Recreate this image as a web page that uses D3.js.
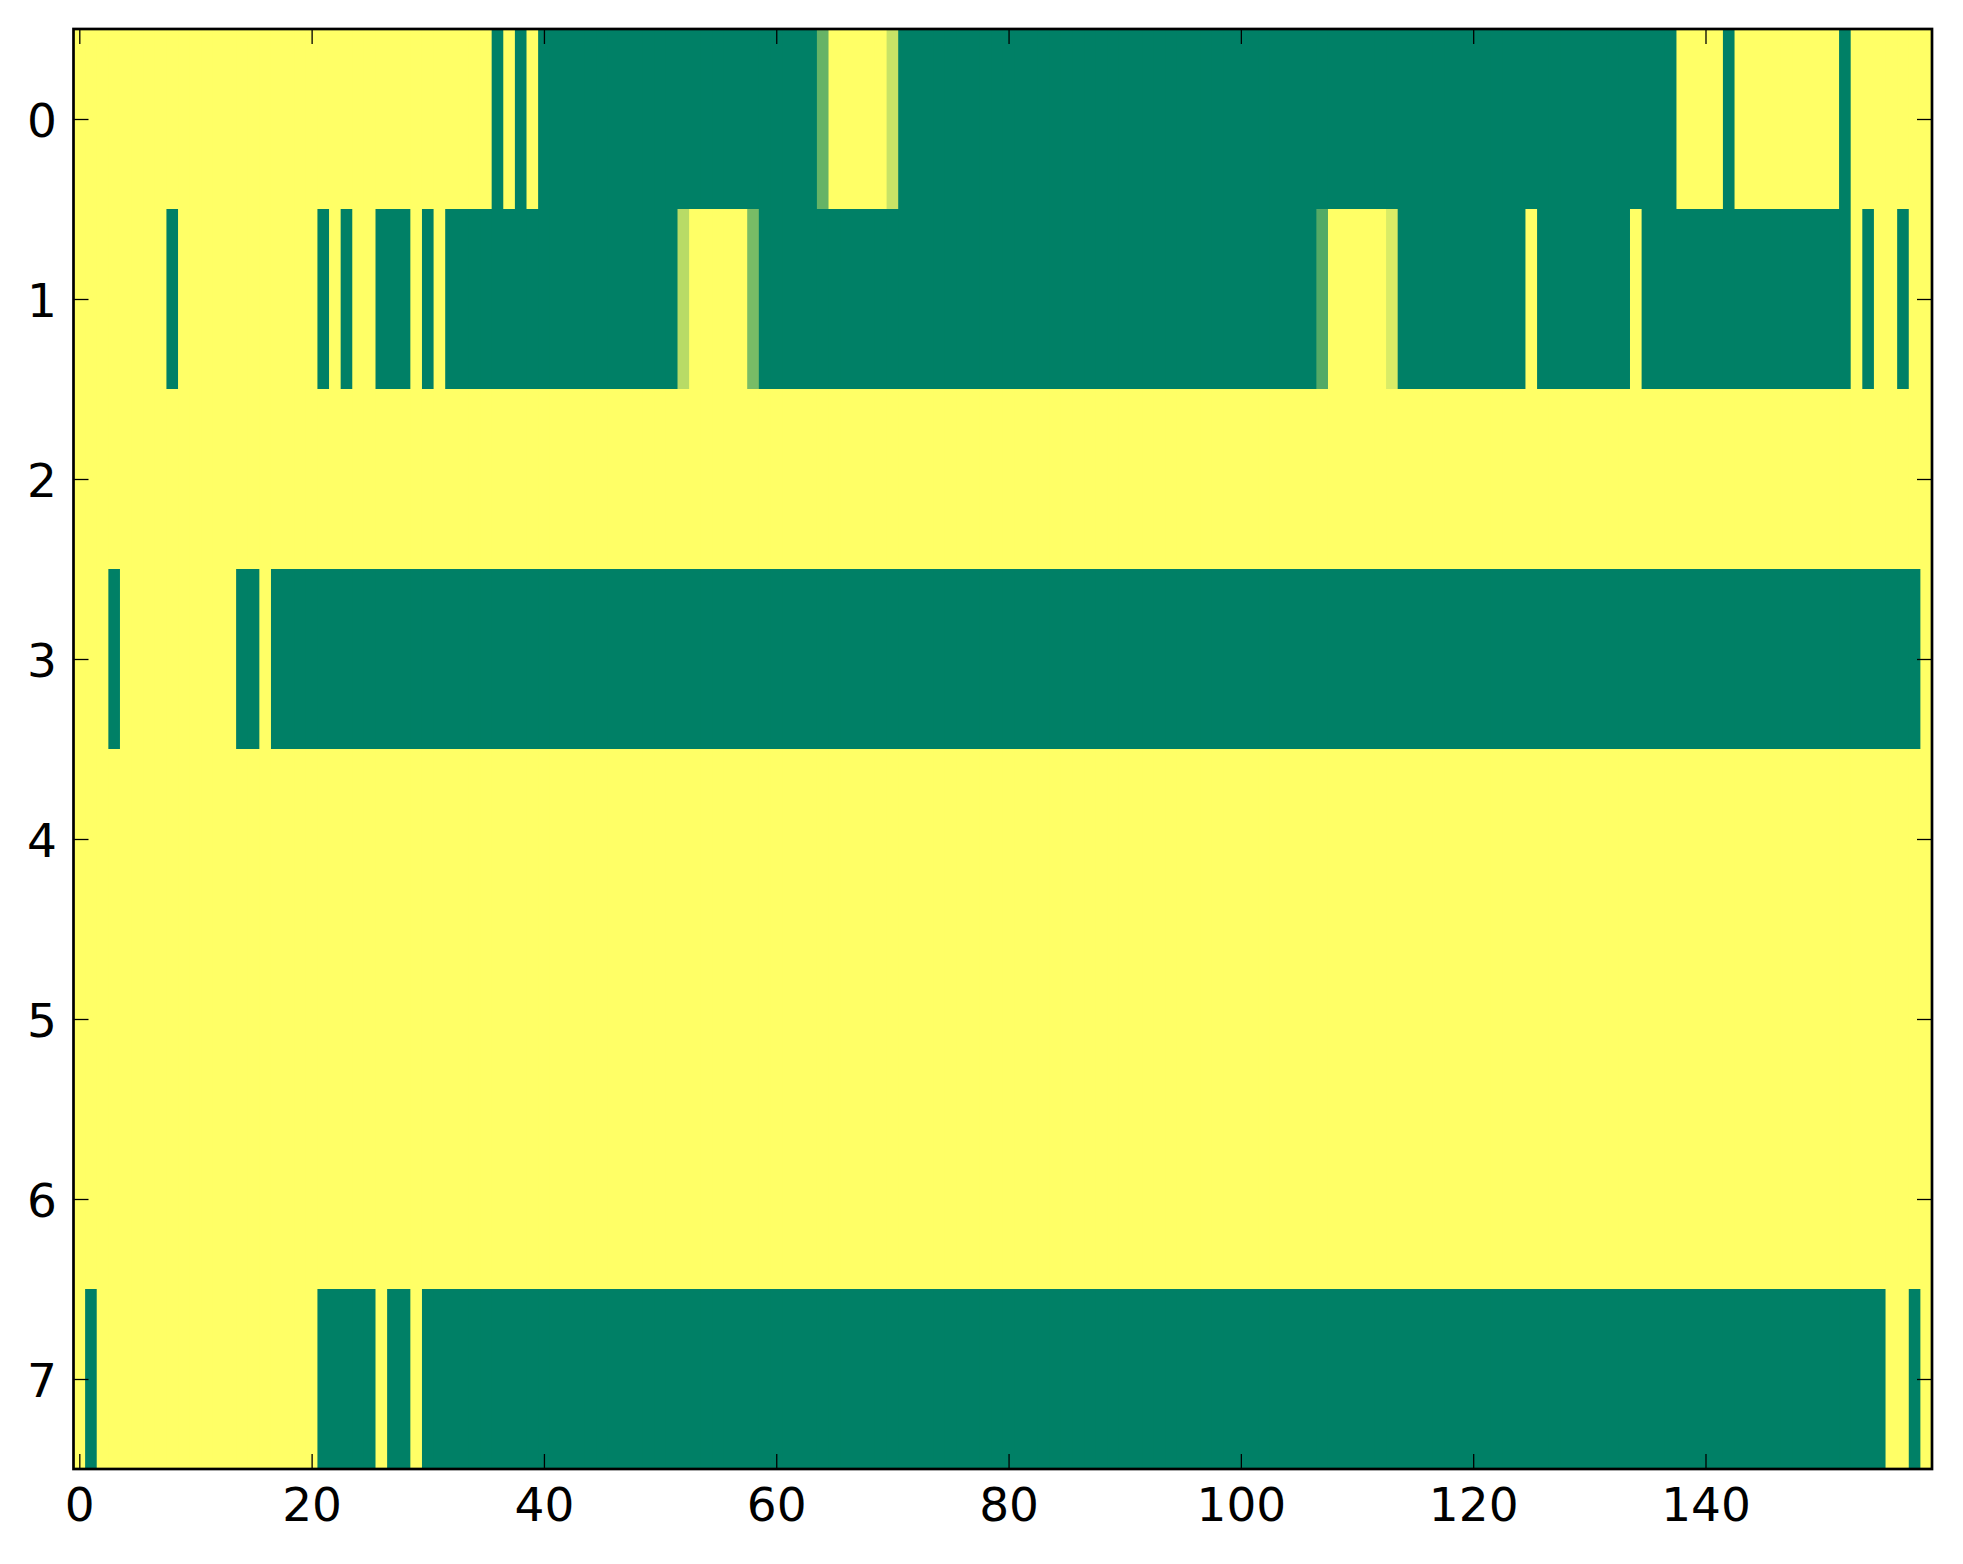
<!DOCTYPE html>
<html>
<head>
<meta charset="utf-8">
<script src="https://cdn.jsdelivr.net/npm/d3@7"></script>
<style>
  html, body { margin: 0; padding: 0; background: #fff; }
  svg { display: block; }
  text { font-family: "DejaVu Sans", sans-serif; }
</style>
</head>
<body>
<svg id="chart" width="1963" height="1564"></svg>
<script>
// ---- data (0 = green, 1 = yellow) ----
const row0 = [
  1,1,1,1,1,1,1,1,1,1, 1,1,1,1,1,1,1,1,1,1, 1,1,1,1,1,1,1,1,1,1, 1,1,1,1,1,1,0,1,0,1,
  0,0,0,0,0,0,0,0,0,0, 0,0,0,0,0,0,0,0,0,0, 0,0,0,0,0.4,1,1,1,1,1, 0.78,0,0,0,0,0,0,0,0,0,
  0,0,0,0,0,0,0,0,0,0, 0,0,0,0,0,0,0,0,0,0, 0,0,0,0,0,0,0,0,0,0, 0,0,0,0,0,0,0,0,0,0,
  0,0,0,0,0,0,0,0,0,0, 0,0,0,0,0,0,0,0,1,1, 1,1,0,1,1,1,1,1,1,1, 1,1,0,1,1,1,1,1,1,1
];
const row1 = [
  1,1,1,1,1,1,1,1,0,1, 1,1,1,1,1,1,1,1,1,1, 1,0,1,0,1,1,0,0,0,1, 0,1,0,0,0,0,0,0,0,0,
  0,0,0,0,0,0,0,0,0,0, 0,0,0.72,1,1,1,1,1,0.47,0, 0,0,0,0,0,0,0,0,0,0, 0,0,0,0,0,0,0,0,0,0,
  0,0,0,0,0,0,0,0,0,0, 0,0,0,0,0,0,0,0,0,0, 0,0,0,0,0,0,0,0.33,1,1, 1,1,1,0.85,0,0,0,0,0,0,
  0,0,0,0,0,1,0,0,0,0, 0,0,0,0,1,0,0,0,0,0, 0,0,0,0,0,0,0,0,0,0, 0,0,0,1,0,1,1,0,1,1
];
const row2 = [
  1,1,1,1,1,1,1,1,1,1, 1,1,1,1,1,1,1,1,1,1, 1,1,1,1,1,1,1,1,1,1, 1,1,1,1,1,1,1,1,1,1,
  1,1,1,1,1,1,1,1,1,1, 1,1,1,1,1,1,1,1,1,1, 1,1,1,1,1,1,1,1,1,1, 1,1,1,1,1,1,1,1,1,1,
  1,1,1,1,1,1,1,1,1,1, 1,1,1,1,1,1,1,1,1,1, 1,1,1,1,1,1,1,1,1,1, 1,1,1,1,1,1,1,1,1,1,
  1,1,1,1,1,1,1,1,1,1, 1,1,1,1,1,1,1,1,1,1, 1,1,1,1,1,1,1,1,1,1, 1,1,1,1,1,1,1,1,1,1
];
const row3 = [
  1,1,1,0,1,1,1,1,1,1, 1,1,1,1,0,0,1,0,0,0, 0,0,0,0,0,0,0,0,0,0, 0,0,0,0,0,0,0,0,0,0,
  0,0,0,0,0,0,0,0,0,0, 0,0,0,0,0,0,0,0,0,0, 0,0,0,0,0,0,0,0,0,0, 0,0,0,0,0,0,0,0,0,0,
  0,0,0,0,0,0,0,0,0,0, 0,0,0,0,0,0,0,0,0,0, 0,0,0,0,0,0,0,0,0,0, 0,0,0,0,0,0,0,0,0,0,
  0,0,0,0,0,0,0,0,0,0, 0,0,0,0,0,0,0,0,0,0, 0,0,0,0,0,0,0,0,0,0, 0,0,0,0,0,0,0,0,0,1
];
const row4 = [
  1,1,1,1,1,1,1,1,1,1, 1,1,1,1,1,1,1,1,1,1, 1,1,1,1,1,1,1,1,1,1, 1,1,1,1,1,1,1,1,1,1,
  1,1,1,1,1,1,1,1,1,1, 1,1,1,1,1,1,1,1,1,1, 1,1,1,1,1,1,1,1,1,1, 1,1,1,1,1,1,1,1,1,1,
  1,1,1,1,1,1,1,1,1,1, 1,1,1,1,1,1,1,1,1,1, 1,1,1,1,1,1,1,1,1,1, 1,1,1,1,1,1,1,1,1,1,
  1,1,1,1,1,1,1,1,1,1, 1,1,1,1,1,1,1,1,1,1, 1,1,1,1,1,1,1,1,1,1, 1,1,1,1,1,1,1,1,1,1
];
const row5 = [
  1,1,1,1,1,1,1,1,1,1, 1,1,1,1,1,1,1,1,1,1, 1,1,1,1,1,1,1,1,1,1, 1,1,1,1,1,1,1,1,1,1,
  1,1,1,1,1,1,1,1,1,1, 1,1,1,1,1,1,1,1,1,1, 1,1,1,1,1,1,1,1,1,1, 1,1,1,1,1,1,1,1,1,1,
  1,1,1,1,1,1,1,1,1,1, 1,1,1,1,1,1,1,1,1,1, 1,1,1,1,1,1,1,1,1,1, 1,1,1,1,1,1,1,1,1,1,
  1,1,1,1,1,1,1,1,1,1, 1,1,1,1,1,1,1,1,1,1, 1,1,1,1,1,1,1,1,1,1, 1,1,1,1,1,1,1,1,1,1
];
const row6 = [
  1,1,1,1,1,1,1,1,1,1, 1,1,1,1,1,1,1,1,1,1, 1,1,1,1,1,1,1,1,1,1, 1,1,1,1,1,1,1,1,1,1,
  1,1,1,1,1,1,1,1,1,1, 1,1,1,1,1,1,1,1,1,1, 1,1,1,1,1,1,1,1,1,1, 1,1,1,1,1,1,1,1,1,1,
  1,1,1,1,1,1,1,1,1,1, 1,1,1,1,1,1,1,1,1,1, 1,1,1,1,1,1,1,1,1,1, 1,1,1,1,1,1,1,1,1,1,
  1,1,1,1,1,1,1,1,1,1, 1,1,1,1,1,1,1,1,1,1, 1,1,1,1,1,1,1,1,1,1, 1,1,1,1,1,1,1,1,1,1
];
const row7 = [
  1,0,1,1,1,1,1,1,1,1, 1,1,1,1,1,1,1,1,1,1, 1,0,0,0,0,0,1,0,0,1, 0,0,0,0,0,0,0,0,0,0,
  0,0,0,0,0,0,0,0,0,0, 0,0,0,0,0,0,0,0,0,0, 0,0,0,0,0,0,0,0,0,0, 0,0,0,0,0,0,0,0,0,0,
  0,0,0,0,0,0,0,0,0,0, 0,0,0,0,0,0,0,0,0,0, 0,0,0,0,0,0,0,0,0,0, 0,0,0,0,0,0,0,0,0,0,
  0,0,0,0,0,0,0,0,0,0, 0,0,0,0,0,0,0,0,0,0, 0,0,0,0,0,0,0,0,0,0, 0,0,0,0,0,0,1,1,0,1
];
const rows = [row0, row1, row2, row3, row4, row5, row6, row7];
const xTicks = [0, 20, 40, 60, 80, 100, 120, 140];
const yTicks = [0, 1, 2, 3, 4, 5, 6, 7];

// ---- layout ----
const W = 1963, H = 1564;
const pL = 73.5, pR = 1932, pT = 29, pB = 1469;
const nCols = row0.length;

const svg = d3.select("#chart");
svg.append("rect").attr("width", W).attr("height", H).attr("fill", "#fff");

const x = d3.scaleLinear().domain([-0.5, nCols - 0.5]).range([pL, pR]);
const y = d3.scaleLinear().domain([-0.5, rows.length - 0.5]).range([pT, pB]);
// matplotlib "summer" colormap: linear from (0,0.5,0.4) to (1,1,0.4)
const color = d3.scaleLinear().domain([0, 1]).range(["#008066", "#ffff66"]).interpolate(d3.interpolateRgb);

const cells = [];
rows.forEach((r, ri) => r.forEach((v, ci) => cells.push({ r: ri, c: ci, v })));

const cw = x(1) - x(0), rh = y(1) - y(0);
const ov = 1.6; // overlap to hide antialiasing seams between neighbouring cells
svg.append("g").selectAll("rect").data(cells).join("rect")
  .attr("x", d => x(d.c - 0.5))
  .attr("y", d => y(d.r - 0.5))
  .attr("width", d => (d.c === nCols - 1 ? cw : cw + ov))
  .attr("height", d => (d.r === rows.length - 1 ? rh : rh + ov))
  .attr("fill", d => color(d.v));

// ---- axes (matplotlib classic: ticks inward on all sides) ----
const tickLen = 15;
const fs = 47;
const axisStyle = g => {
  g.select(".domain").remove();
  g.selectAll(".tick line").attr("stroke", "#000").attr("stroke-width", 1.3);
};

// bottom
const gB = svg.append("g").attr("transform", `translate(0,${pB})`)
  .call(d3.axisBottom(x).tickValues(xTicks).tickSizeInner(-tickLen).tickSizeOuter(0).tickPadding(0));
axisStyle(gB);
gB.selectAll(".tick text").attr("y", 52).attr("dy", null)
  .attr("font-size", fs).attr("font-family", "DejaVu Sans").attr("fill", "#000");

// top
const gT = svg.append("g").attr("transform", `translate(0,${pT})`)
  .call(d3.axisTop(x).tickValues(xTicks).tickSizeInner(-tickLen).tickSizeOuter(0).tickFormat(""));
axisStyle(gT);

// left
const gL = svg.append("g").attr("transform", `translate(${pL},0)`)
  .call(d3.axisLeft(y).tickValues(yTicks).tickSizeInner(-tickLen).tickSizeOuter(0).tickPadding(0));
axisStyle(gL);
gL.selectAll(".tick text").attr("x", -16.5).attr("dy", null).attr("y", 17)
  .attr("text-anchor", "end")
  .attr("font-size", fs).attr("font-family", "DejaVu Sans").attr("fill", "#000");

// right
const gR = svg.append("g").attr("transform", `translate(${pR},0)`)
  .call(d3.axisRight(y).tickValues(yTicks).tickSizeInner(-tickLen).tickSizeOuter(0).tickFormat(""));
axisStyle(gR);

// frame
svg.append("rect")
  .attr("x", pL).attr("y", pT)
  .attr("width", pR - pL).attr("height", pB - pT)
  .attr("fill", "none").attr("stroke", "#000").attr("stroke-width", 2.7);
</script>
</body>
</html>
